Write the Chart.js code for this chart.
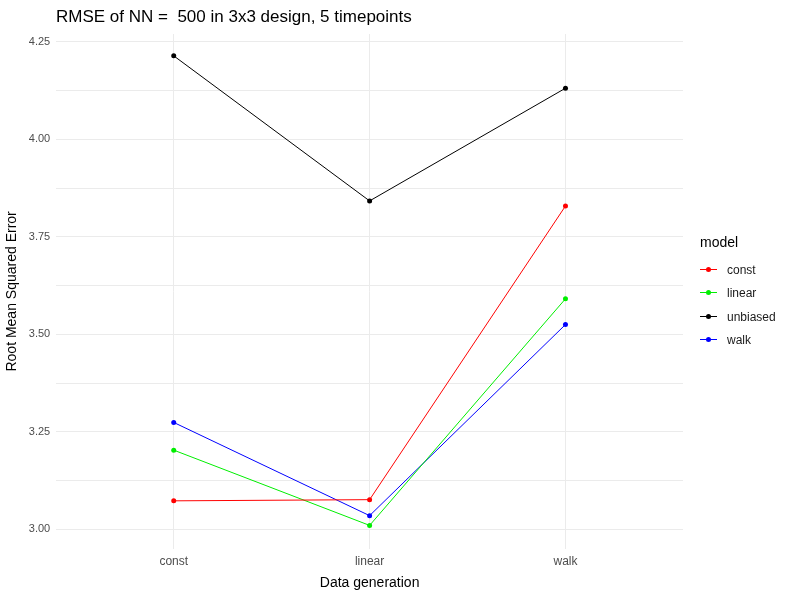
<html>
<head>
<style>
  body { margin: 0; background: #fff; font-family: "Liberation Sans", Arial, sans-serif; }
  #wrap { position: relative; width: 800px; height: 600px; }
  #title { position: absolute; left: 56px; top: 7px; font-size: 17px; color: #000; white-space: pre; }
  #legend { position: absolute; left: 700px; top: 234px; font-size: 14px; color: #000; }
  #legend .item { font-size: 12px; color: #1a1a1a; height: 23.5px; display: flex; align-items: center; }
  #legend .sw { position: relative; width: 17px; height: 10px; margin-right: 10px; }
  #legend .sw i { position: absolute; left: 0; top: 4px; width: 17px; height: 1px; }
  #legend .sw b { position: absolute; left: 6px; top: 2px; width: 5px; height: 5px; border-radius: 50%; }
</style>
<script src="https://cdn.jsdelivr.net/npm/chart.js@4"></script>
</head>
<body>
<div id="wrap">
  <canvas id="myChart" width="800" height="600"></canvas>
  <div id="title">RMSE of NN =  500 in 3x3 design, 5 timepoints</div>
  <div id="legend"><div style="margin-bottom:8px">model</div></div>
</div>
<script>
var categories = ["const", "linear", "walk"];
var models = ["const", "linear", "unbiased", "walk"];
var colors = ["#ff0000", "#00ee00", "#000000", "#0000ff"];
var values = {
    "const":    [3.073, 3.076, 3.829],
    "linear":   [3.203, 3.010, 3.591],
    "unbiased": [4.214, 3.842, 4.131],
    "walk":     [3.274, 3.035, 3.525]
};
var yTicks = [3.0, 3.125, 3.25, 3.375, 3.5, 3.625, 3.75, 3.875, 4.0, 4.125, 4.25];

var datasets = [];
for (var m = 0; m < models.length; m++) {
    var pts = [];
    for (var i = 0; i < categories.length; i++) pts.push({x: i, y: values[models[m]][i]});
    datasets.push({
        label: models[m], data: pts, borderColor: colors[m], backgroundColor: colors[m],
        borderWidth: 1, pointRadius: 2.5, pointBorderWidth: 0, tension: 0
    });
    var item = document.createElement("div");
    item.className = "item";
    item.innerHTML = '<span class="sw"><i style="background:' + colors[m] + '"></i><b style="background:' + colors[m] + '"></b></span>' + models[m];
    document.getElementById("legend").appendChild(item);
}

Chart.defaults.font.family = '"Liberation Sans", Arial, sans-serif';
new Chart(document.getElementById("myChart").getContext("2d"), {
    type: "line",
    data: { datasets: datasets },
    options: {
        responsive: false, animation: false,
        layout: { padding: { left: 0, right: 117, top: 34, bottom: 4 } },
        plugins: { legend: { display: false }, tooltip: { enabled: false }, title: { display: false } },
        scales: {
            x: {
                type: "linear", min: -0.6, max: 2.6,
                afterBuildTicks: function (s) { s.ticks = [{value: 0}, {value: 1}, {value: 2}]; },
                ticks: { callback: function (v) { return categories[v]; }, color: "#4d4d4d", font: { size: 12 }, padding: 6 },
                grid: { color: "#ebebeb", drawTicks: false }, border: { display: false },
                title: { display: true, text: "Data generation", color: "#000", font: { size: 14 }, padding: { top: 0 } }
            },
            y: {
                min: 2.95, max: 4.27,
                afterBuildTicks: function (s) { s.ticks = yTicks.map(function (v) { return {value: v}; }); },
                ticks: {
                    callback: function (v) { return (Math.round(v * 1000) % 250 === 0) ? v.toFixed(2) : ""; },
                    color: "#4d4d4d", font: { size: 11 }, padding: 6
                },
                grid: { color: "#ebebeb", drawTicks: false }, border: { display: false },
                title: { display: true, text: "Root Mean Squared Error", color: "#000", font: { size: 14 }, padding: { bottom: 2 } }
            }
        }
    }
});
</script>
</body>
</html>
